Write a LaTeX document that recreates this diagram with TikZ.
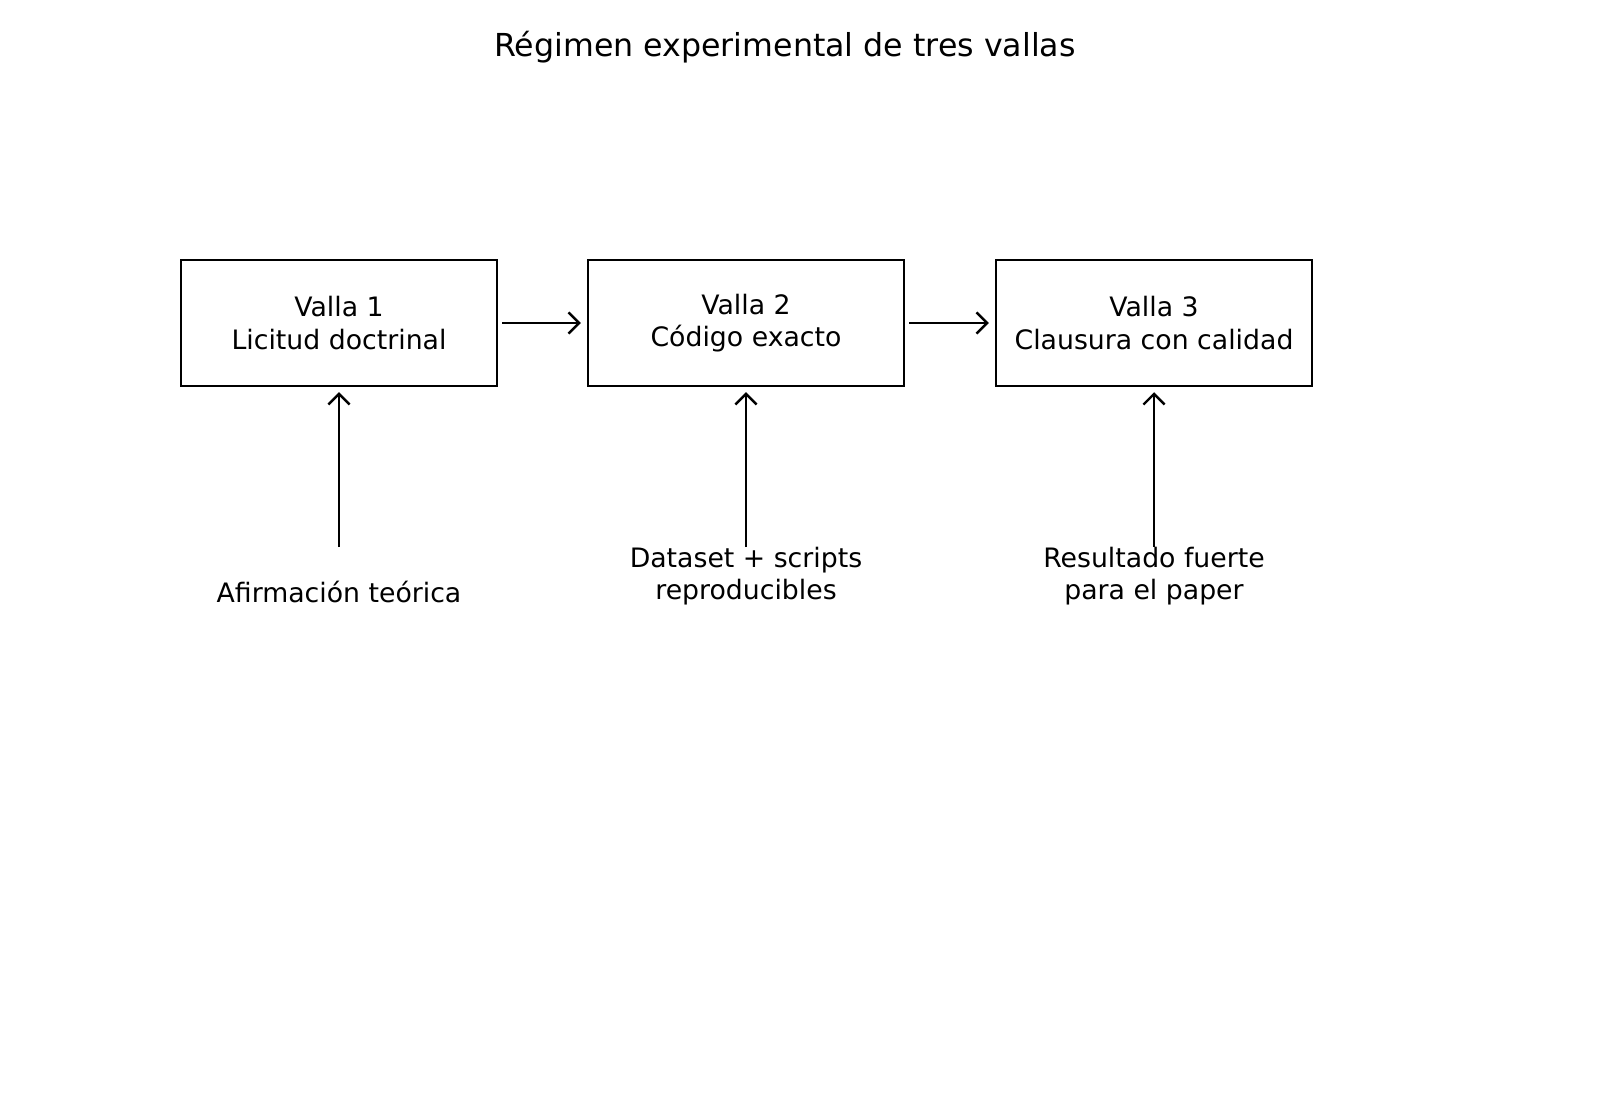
\documentclass[tikz,border=0pt]{standalone}
\usepackage{fontspec}
\setmainfont{DejaVu Sans}
\begin{document}
\begin{tikzpicture}[x=0.01cm,y=-0.01cm,
  box/.style={draw,line width=0.7pt,minimum width=316*0.01cm,minimum height=126*0.01cm,align=center,font=\fontsize{7.6}{9.2}\selectfont,inner sep=0},
  lab/.style={align=center,font=\fontsize{7.6}{9.2}\selectfont,inner sep=0},
  arr/.style={->,line width=0.7pt,>={Straight Barb[length=3pt]}}]
\usetikzlibrary{arrows.meta}
\useasboundingbox (0,0) rectangle (1600,1100);
\node[font=\fontsize{9}{11}\selectfont] (t) at (785,47) {Régimen experimental de tres vallas};
\node[box] (b1) at (339,323) {Valla 1\\Licitud doctrinal};
\node[box] (b2) at (746,323) {Valla 2\\Código exacto};
\node[box] (b3) at (1154,323) {Valla 3\\Clausura con calidad};
\node[lab] (l1) at (339,592) {Afirmación teórica};
\node[lab] (l2) at (746,576) {Dataset + scripts\\reproducibles};
\node[lab] (l3) at (1154,576) {Resultado fuerte\\para el paper};
\coordinate (s1) at (339,547);
\coordinate (s2) at (746,547);
\coordinate (s3) at (1154,547);
\draw[arr] (b1.east)++(4,0) -- ([xshift=-6*0.01cm]b2.west);
\draw[arr] (b2.east)++(4,0) -- ([xshift=-6*0.01cm]b3.west);
\draw[arr] (s1) -- ([yshift=-5*0.01cm]b1.south);
\draw[arr] (s2) -- ([yshift=-5*0.01cm]b2.south);
\draw[arr] (s3) -- ([yshift=-5*0.01cm]b3.south);
\end{tikzpicture}
\end{document}
